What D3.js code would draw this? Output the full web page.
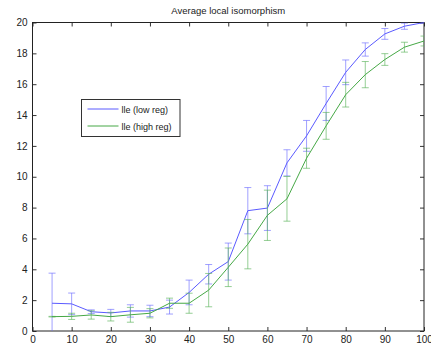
<!DOCTYPE html>
<meta charset="utf-8">
<style>
    body { margin: 0; background: #fff; }
    text { font-family: "Liberation Sans", Arial, sans-serif; fill: #222; }
    .tick text { font-size: 10px; }
</style>
<svg></svg>
<script src="https://d3js.org/d3.v7.min.js"></script>
<script>

    var width = 431,
        height = 349;

    // data
    var xs = [5, 10, 15, 20, 25, 30, 35, 40, 45, 50, 55, 60, 65, 70, 75, 80, 85, 90, 95, 100];
    var lowReg = [1.8, 1.76, 1.25, 1.17, 1.3, 1.3, 1.55, 2.5, 3.68, 4.5, 7.8, 7.97, 10.9, 12.65, 14.75, 16.77, 18.25, 19.26, 19.76, 20.0];
    var lowRegErr = [1.95, 0.7, 0.12, 0.23, 0.4, 0.37, 0.45, 0.8, 0.63, 1.2, 1.5, 1.45, 0.85, 1.0, 1.1, 0.8, 0.43, 0.35, 0.2, 0.03];
    var highReg = [0.93, 0.95, 1.04, 0.93, 1.05, 1.15, 1.8, 1.8, 2.65, 4.13, 5.63, 7.5, 8.57, 11.2, 13.3, 15.32, 16.62, 17.6, 18.4, 18.8];
    var highRegErr = [0.02, 0.2, 0.27, 0.28, 0.48, 0.3, 0.33, 0.65, 1.08, 1.25, 1.6, 1.63, 1.45, 0.65, 0.87, 0.8, 0.85, 0.38, 0.32, 0.32];
    var xTicks = [0, 10, 20, 30, 40, 50, 60, 70, 80, 90, 100];
    var yTicks = [0, 2, 4, 6, 8, 10, 12, 14, 16, 18, 20];
    var seriesNames = ["lle (low reg)", "lle (high reg)"];

    var mLeft = 32.5, mRight = 424, mTop = 22.5, mBottom = 331;

    var svg = d3.select("svg")
        .attr("width", width)
        .attr("height", height);

    var x = d3.scaleLinear().domain([0, 100]).range([mLeft, mRight]);
    var y = d3.scaleLinear().domain([0, 20]).range([mBottom, mTop]);

    svg.append("defs").append("clipPath").attr("id", "plot")
        .append("rect").attr("x", mLeft).attr("y", mTop)
        .attr("width", mRight - mLeft).attr("height", mBottom - mTop);

    // axes, ticks pointing inward like matlab
    function styleAxis(g) {
        g.select(".domain").remove();
        g.selectAll(".tick line").attr("stroke", "#333");
    }
    svg.append("g").attr("transform", "translate(0," + mBottom + ")")
        .call(d3.axisBottom(x).tickValues(xTicks).tickSizeInner(-4).tickPadding(5))
        .call(styleAxis);
    svg.append("g").attr("transform", "translate(0," + mTop + ")")
        .call(d3.axisTop(x).tickValues(xTicks).tickSizeInner(-4).tickFormat(""))
        .call(styleAxis);
    svg.append("g").attr("transform", "translate(" + mLeft + ",0)")
        .call(d3.axisLeft(y).tickValues(yTicks).tickSizeInner(-4).tickPadding(5))
        .call(styleAxis);
    svg.append("g").attr("transform", "translate(" + mRight + ",0)")
        .call(d3.axisRight(y).tickValues(yTicks).tickSizeInner(-4).tickFormat(""))
        .call(styleAxis);

    svg.selectAll(".tick text").attr("fill", "#222");

    svg.append("rect")
        .attr("x", mLeft).attr("y", mTop)
        .attr("width", mRight - mLeft).attr("height", mBottom - mTop)
        .attr("fill", "none").attr("stroke", "#222").attr("stroke-width", 1);

    svg.append("text")
        .attr("x", (mLeft + mRight) / 2).attr("y", 14)
        .attr("text-anchor", "middle")
        .style("font-size", "9.5px")
        .text("Average local isomorphism");

    var series = [
        { name: seriesNames[0], vals: lowReg, errs: lowRegErr, line: "#5a5aff", bar: "#6f6fff" },
        { name: seriesNames[1], vals: highReg, errs: highRegErr, line: "#46a846", bar: "#5cb45c" }
    ];

    var plot = svg.append("g").attr("clip-path", "url(#plot)");
    var cap = 3.5;

    series.forEach(function (s) {
        var pts = xs.map(function (v, i) { return { x: v, y: s.vals[i], e: s.errs[i] }; });
        var g = plot.append("g");

        var bars = g.selectAll(".eb").data(pts).enter().append("g")
            .attr("stroke", s.bar).attr("stroke-opacity", 0.65).attr("stroke-width", 1);
        bars.append("line")
            .attr("x1", function (d) { return x(d.x); }).attr("x2", function (d) { return x(d.x); })
            .attr("y1", function (d) { return y(d.y - d.e); }).attr("y2", function (d) { return y(d.y + d.e); });
        bars.append("line")
            .attr("x1", function (d) { return x(d.x) - cap; }).attr("x2", function (d) { return x(d.x) + cap; })
            .attr("y1", function (d) { return y(d.y + d.e); }).attr("y2", function (d) { return y(d.y + d.e); });
        bars.append("line")
            .attr("x1", function (d) { return x(d.x) - cap; }).attr("x2", function (d) { return x(d.x) + cap; })
            .attr("y1", function (d) { return y(d.y - d.e); }).attr("y2", function (d) { return y(d.y - d.e); });

        g.append("path")
            .datum(pts)
            .attr("fill", "none")
            .attr("stroke", s.line)
            .attr("stroke-width", 1)
            .attr("d", d3.line().x(function (d) { return x(d.x); }).y(function (d) { return y(d.y); }));
    });

    // legend
    var lg = svg.append("g").attr("transform", "translate(81.5,99.5)");
    lg.append("rect").attr("width", 98.5).attr("height", 37)
        .attr("fill", "#fff").attr("stroke", "#333");
    series.forEach(function (s, i) {
        var ly = 9.5 + i * 17;
        lg.append("line").attr("x1", 6).attr("x2", 37).attr("y1", ly).attr("y2", ly)
            .attr("stroke", s.line);
        lg.append("text").attr("x", 40).attr("y", ly + 3.5)
            .style("font-size", "9px")
            .text(s.name);
    });

</script>
